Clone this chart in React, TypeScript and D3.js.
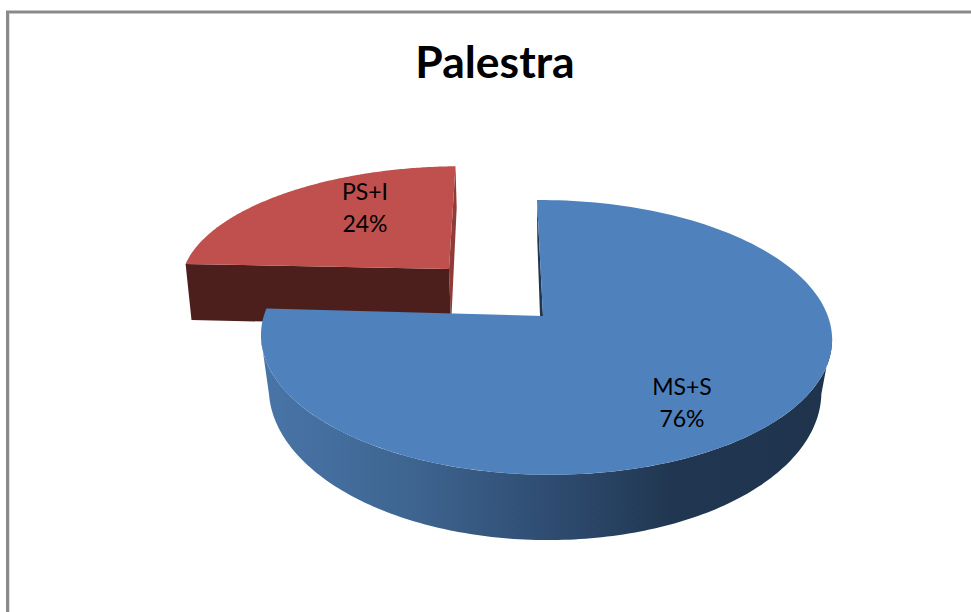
import React from "react";
import * as d3 from "d3";

const categories = ["MS+S", "PS+I"];
const shares = [76, 24];
const chartTitle = "Palestra";

const W = 971;
const H = 612;

type Plane = { ax: number; ay: number; rx: number; ry: number; p: number; q: number; lean: number; roll: number };

// Perspective planes for each slice's top face and bottom face
const blueTop: Plane = { ax: 543, ay: 316, rx: 282, ry: 134, p: 0.156, q: 0.009, lean: -6, roll: -0.8 };
const blueBottom: Plane = { ax: 542, ay: 371, rx: 274, ry: 147.6, p: 0.127, q: 0.009, lean: -4.7, roll: -0.8 };
const redTop: Plane = { ax: 449, ay: 269, rx: 266, ry: 113, p: 0.1, q: 0, lean: 6.5, roll: -2 };
const redBottom: Plane = { ax: 451, ay: 326, rx: 262, ry: 130, p: 0.1, q: 0, lean: 5.7, roll: -2 };

function project(pl: Plane, theta: number, r = 1): [number, number] {
  const X = Math.sin(theta) * r;
  const Y = Math.cos(theta) * r;
  const w = 1 + pl.p * Y + pl.q * -X;
  return [pl.ax + (pl.rx * X) / w + pl.lean * Y, pl.ay - (pl.ry * Y) / w + pl.roll * X];
}

function arcPts(pl: Plane, a0: number, a1: number, n = 160): [number, number][] {
  return d3.range(n + 1).map((i) => project(pl, a0 + ((a1 - a0) * i) / n));
}

const line = d3.line().curve(d3.curveLinear);
const closed = (pts: [number, number][]) => (line(pts) ?? "") + "Z";

export default function App() {
  const slices = d3.pie<number>().sort(null)(shares);
  const blue = slices[0];
  const red = slices[1];

  const blueFace = closed([[blueTop.ax, blueTop.ay], ...arcPts(blueTop, blue.startAngle, blue.endAngle)]);
  const redFace = closed([[redTop.ax, redTop.ay], ...arcPts(redTop, red.startAngle, red.endAngle)]);

  const rightTan = Math.acos(-blueTop.p);
  const leftTan = 2 * Math.PI - rightTan;
  const blueWall = closed([
    ...arcPts(blueTop, rightTan, leftTan),
    ...arcPts(blueBottom, rightTan, leftTan).reverse(),
  ]);
  const blueSliver = closed([
    project(blueTop, blue.startAngle),
    [blueTop.ax, blueTop.ay],
    [blueBottom.ax, blueBottom.ay],
    project(blueBottom, blue.startAngle),
  ]);
  const redFront = closed([
    [redTop.ax, redTop.ay],
    project(redTop, red.startAngle),
    project(redBottom, red.startAngle),
    [redBottom.ax, redBottom.ay],
  ]);
  const redSide = closed([
    [redTop.ax, redTop.ay],
    project(redTop, red.endAngle),
    project(redBottom, red.endAngle),
    [redBottom.ax, redBottom.ay],
  ]);

  const font = "Lato, Carlito, Calibri, 'Open Sans', sans-serif";
  const labelPos: [number, number][] = [
    [682, 388],
    [365, 193],
  ];

  return (
    <svg
      width={W}
      height={H}
      viewBox={`0 0 ${W} ${H}`}
      style={{ position: "absolute", left: 0, top: 0, display: "block", background: "#fff" }}
    >
      <defs>
        <linearGradient id="wall" gradientUnits="userSpaceOnUse" x1={260} x2={831} y1={0} y2={0}>
          <stop offset="0" stopColor="#4875a8" />
          <stop offset="0.25" stopColor="#3f6692" />
          <stop offset="0.5" stopColor="#2f4d72" />
          <stop offset="0.72" stopColor="#213751" />
          <stop offset="1" stopColor="#1f334d" />
        </linearGradient>
      </defs>

      <path d={`M7.5,${H}V12H${W}`} fill="none" stroke="#8a8a8a" strokeWidth={3} />
      <path d={`M9.5,${H}V14`} fill="none" stroke="#e4e4e4" strokeWidth={1} />

      <text x={495} y={78} textAnchor="middle" fontFamily={font} fontWeight={700} fontSize={44.5} fill="#000">
        {chartTitle}
      </text>

      <path d={redSide} fill="#8f3c39" />
      <path d={redFront} fill="#4c1f1d" />
      <path d={redFace} fill="#c0504d" />

      <path d={blueSliver} fill="#1f3550" />
      <path d={blueWall} fill="url(#wall)" />
      <path d={blueFace} fill="#4f81bd" />

      {slices.map((s, i) => (
        <text
          key={categories[i]}
          textAnchor="middle"
          fontFamily={font}
          fontSize={23}
          fill="#000"
          x={labelPos[i][0]}
          y={labelPos[i][1]}
        >
          <tspan x={labelPos[i][0]} dy={7}>{categories[i]}</tspan>
          <tspan x={labelPos[i][0]} dy={32}>{`${s.data}%`}</tspan>
        </text>
      ))}
    </svg>
  );
}
